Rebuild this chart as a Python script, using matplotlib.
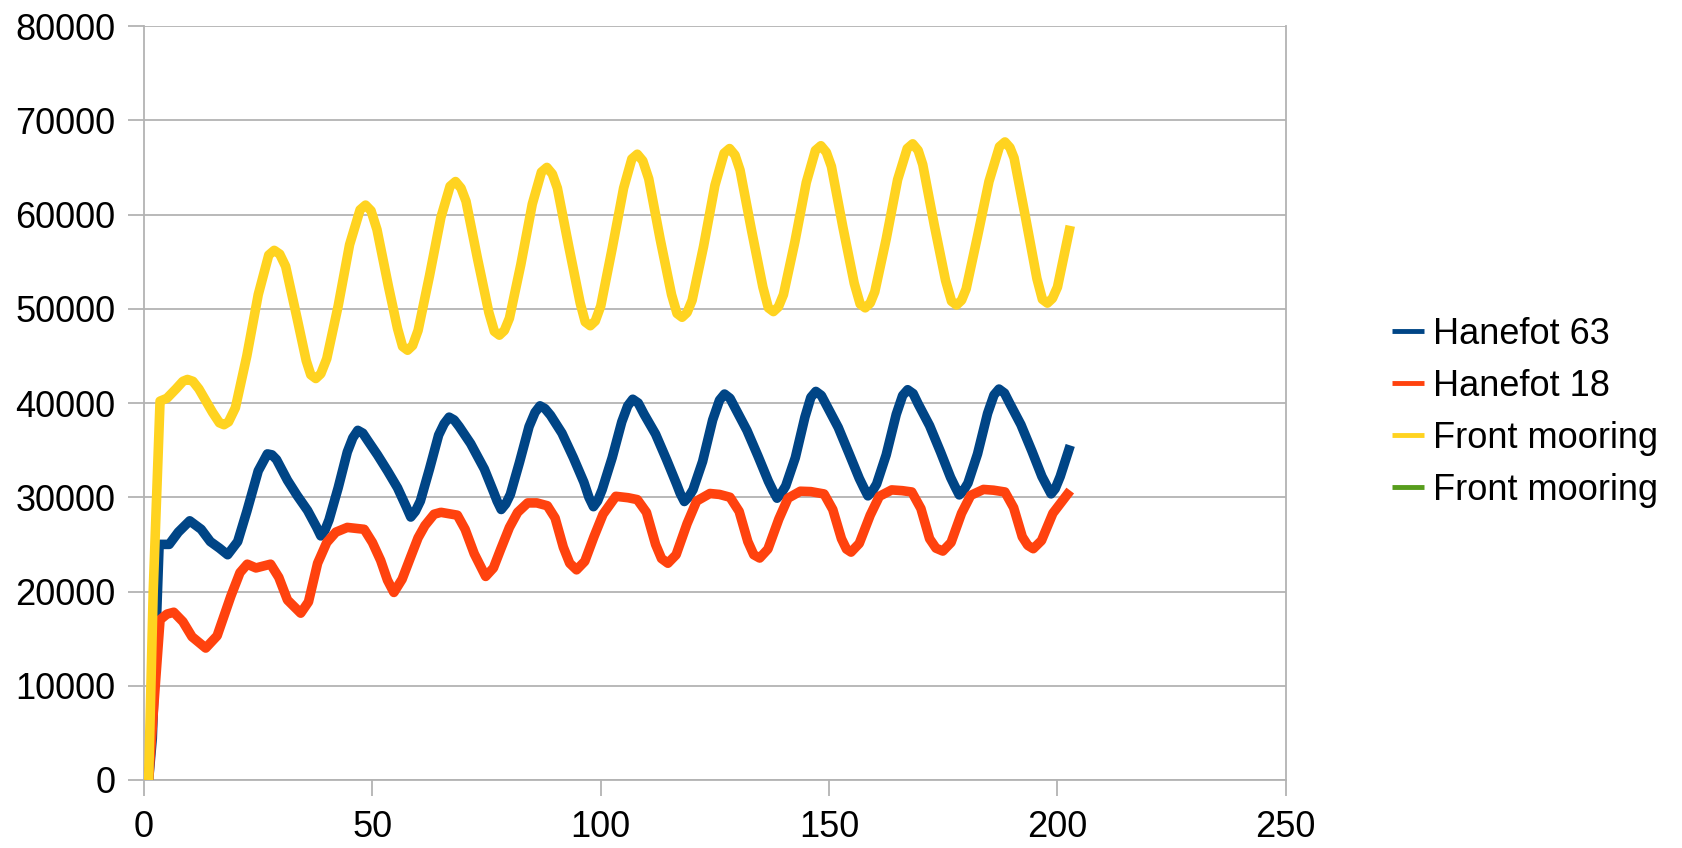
import matplotlib.pyplot as plt

plt.rcParams['font.family'] = ['Liberation Sans', 'DejaVu Sans']

# Serie: Hanefot 63
x_h63 = [1, 1.8, 3.3, 5.5, 7.5, 10, 12.5, 14.5, 16.5, 18.3,
         20.5, 22.5, 25, 27, 28, 29, 31.4, 33.5, 35.8, 37.8,
         38.7, 39.6, 40.5, 42.5, 44.5, 45.7, 46.8, 47.9, 49, 51.1,
         53.3, 55.5, 57.4, 58.4, 59.4, 60.5, 62.5, 64.5, 65.7, 66.8,
         67.9, 69, 71.5, 74.5, 76.5, 77.3, 78.2, 79.2, 80.2, 82.2,
         84.3, 85.6, 86.7, 87.8, 89, 91.5, 94, 96.3, 97.4, 98.4,
         99.3, 100.3, 102.5, 104.6, 105.9, 107, 108.2, 109.5, 112, 114.4,
         116.6, 117.4, 118.3, 119.2, 120.2, 122.3, 124.5, 126, 127.1, 128.3,
         129.5, 132, 134.4, 136.7, 137.7, 138.6, 139.5, 140.5, 142.6, 144.7,
         146, 147.1, 148.3, 149.5, 152, 154.4, 156.6, 157.6, 158.5, 159.4,
         160.4, 162.5, 164.7, 166.1, 167.2, 168.4, 169.5, 172, 174.4, 176.6,
         177.6, 178.5, 179.4, 180.4, 182.5, 184.7, 186.1, 187.2, 188.4, 189.5,
         192, 194.4, 196.6, 197.7, 198.6, 199.5, 200.6, 202.8]
y_h63 = [0, 4400, 25000, 25000, 26300, 27500, 26600, 25300, 24600, 23900,
         25300, 28500, 32800, 34600, 34500, 34000, 31800, 30200, 28600, 26800,
         25900, 26500, 27600, 31000, 34800, 36300, 37100, 36800, 36000, 34500,
         32800, 31000, 29000, 27900, 28500, 29600, 33000, 36600, 37800, 38500,
         38200, 37500, 35700, 33000, 30600, 29600, 28700, 29300, 30300, 33700,
         37500, 39000, 39700, 39400, 38700, 36800, 34200, 31600, 30000, 29000,
         29600, 30800, 34200, 38000, 39700, 40400, 40000, 38800, 36700, 34000,
         31400, 30400, 29550, 30000, 30800, 33800, 38200, 40300, 40950, 40500,
         39400, 37100, 34400, 31700, 30700, 29900, 30400, 31200, 34200, 38500,
         40600, 41230, 40800, 39700, 37400, 34600, 32000, 31000, 30150, 30600,
         31400, 34500, 38800, 40800, 41410, 41000, 39900, 37600, 34800, 32100,
         31100, 30250, 30700, 31500, 34600, 38900, 40850, 41480, 41050, 40000,
         37700, 34900, 32200, 31200, 30360, 30900, 32200, 35500]

# Serie: Hanefot 18
x_h18 = [1, 2, 3.5, 5, 6.5, 8.5, 10.5, 13.5, 16, 19, 21, 22.6, 24.5, 27.7, 29.5, 31.4,
         34.3, 36, 38, 40, 42, 44.5, 48.2, 50, 51.8, 53.3, 54.7, 56.5, 58.4, 60, 61.5,
         63.5, 65, 68.6, 70.3, 72.3, 74.8, 76.5, 78.1, 80, 81.8, 84, 86, 88.3, 90,
         91.8, 93.2, 94.7, 96.5, 98.5, 100.5, 103.3, 106, 108, 110, 112, 113.3, 114.7,
         116.5, 118.9, 121, 123.9, 126, 128.3, 130.3, 132.2, 133.5, 134.8, 136.6, 139,
         141, 143.7, 146, 148.9, 150.8, 152.7, 153.8, 154.8, 156.6, 159, 161, 163.7,
         166, 168.1, 170.1, 172, 173.4, 174.9, 176.7, 179, 181, 183.8, 186, 188.5,
         190.4, 192.3, 193.5, 194.7, 196.5, 199, 202.8]
y_h18 = [0, 7000, 17000, 17600, 17800, 16800, 15200, 14000, 15300, 19500, 22000, 22900,
         22500, 22900, 21500, 19100, 17700, 18900, 23000, 25200, 26300, 26800, 26600,
         25200, 23300, 21200, 19900, 21300, 23700, 25700, 27000, 28200, 28400, 28100,
         26600, 24000, 21600, 22500, 24500, 26800, 28400, 29400, 29400, 29100, 27800,
         24700, 23000, 22300, 23200, 25800, 28200, 30100, 29950, 29750, 28400, 25000,
         23500, 23000, 23900, 27200, 29600, 30400, 30300, 30000, 28500, 25300, 23900,
         23550, 24500, 27700, 29900, 30640, 30600, 30350, 28700, 25600, 24500, 24180,
         25100, 28100, 30100, 30780, 30700, 30560, 28800, 25600, 24600, 24290, 25200,
         28300, 30200, 30830, 30750, 30560, 28900, 25800, 24900, 24540, 25400, 28300,
         30710]

# Serie: Front mooring
x_fm = [1, 2, 3.5, 5, 7, 8.5, 9.5, 10.7, 12, 15,
        16.5, 17.5, 18.5, 20, 22.5, 25, 27.3, 28.5, 29.7, 31,
        33.5, 35.5, 36.5, 37.6, 38.7, 40, 42.5, 45, 47.3, 48.5,
        49.7, 51, 53.5, 55.5, 56.6, 57.7, 58.8, 60, 62.5, 65,
        67, 68.2, 69.4, 70.5, 73, 75.5, 76.7, 77.8, 78.9, 80,
        82.5, 85, 87, 88.2, 89.4, 90.5, 93, 95.5, 96.6, 97.7,
        98.8, 100, 102.5, 105, 106.8, 108, 109.2, 110.5, 113, 115.5,
        116.7, 117.8, 118.9, 120, 122.5, 125, 127, 128.2, 129.4, 130.5,
        133, 135.5, 136.7, 137.8, 138.9, 140, 142.5, 145, 147, 148.2,
        149.4, 150.5, 153, 155.5, 156.8, 157.9, 159, 160, 162.5, 165,
        167.1, 168.3, 169.5, 170.5, 173, 175.5, 176.8, 177.9, 179, 180,
        182.5, 185, 187.3, 188.5, 189.6, 190.5, 193, 195.5, 196.7, 197.8,
        198.9, 200, 202.8]
y_fm = [0, 20000, 40200, 40500, 41500, 42300, 42500, 42300, 41500, 39000,
        37900, 37700, 38000, 39500, 45000, 51500, 55700, 56200, 55800, 54500,
        49000, 44500, 43000, 42600, 43100, 44700, 50300, 56800, 60500, 61000,
        60400, 58400, 52400, 47900, 46000, 45600, 46100, 47700, 53500, 59700,
        63000, 63500, 62800, 61400, 55350, 49600, 47600, 47200, 47700, 49000,
        54700, 61100, 64500, 65000, 64300, 62800, 56600, 50600, 48600, 48200,
        48700, 50300, 56400, 62800, 65900, 66400, 65700, 63800, 57400, 51500,
        49500, 49100, 49600, 50900, 56600, 63100, 66500, 67000, 66300, 64700,
        58350, 52300, 50100, 49700, 50200, 51500, 57100, 63400, 66800, 67300,
        66600, 65100, 58700, 52700, 50500, 50100, 50600, 51800, 57400, 63700,
        67000, 67500, 66800, 65300, 58950, 53000, 50800, 50400, 50900, 52100,
        57700, 63500, 67200, 67700, 67100, 66000, 59700, 53200, 51000, 50600,
        51100, 52300, 58800]

# Serie: Front mooring (2) - sin datos visibles
x_fm2 = []
y_fm2 = []

fig = plt.figure(figsize=(16.83, 8.48), dpi=100)
ax = fig.add_axes([0.0856, 0.0802, 0.764 - 0.0856, 0.9693 - 0.0802])

estilo = dict(linewidth=6.9, solid_joinstyle='round', solid_capstyle='butt', zorder=3)
ax.plot(x_h63, y_h63, color='#004586', label='Hanefot 63', **estilo)
ax.plot(x_h18, y_h18, color='#ff420e', label='Hanefot 18', **estilo)
ax.plot(x_fm, y_fm, color='#ffd320', label='Front mooring', **estilo)
ax.plot(x_fm2, y_fm2, color='#579d1c', label='Front mooring', **estilo)

ax.set_xlim(0, 250)
ax.set_ylim(0, 80000)
ax.set_xticks(range(0, 251, 50))
ax.set_yticks(range(0, 80001, 10000))

gris = '#b3b3b3'
ax.yaxis.grid(True, color=gris, linewidth=1.3)
ax.set_axisbelow(True)
for lado in ['left', 'bottom', 'right']:
    ax.spines[lado].set_color(gris)
    ax.spines[lado].set_linewidth(1.3)
ax.spines['top'].set_visible(False)

ax.tick_params(axis='both', length=11.5, width=1.3, color=gris, labelsize=26)
ax.tick_params(axis='y', pad=9)
ax.tick_params(axis='x', pad=10)

leg = fig.legend(loc='center left', bbox_to_anchor=(0.827, 0.514), frameon=False,
                 fontsize=26, handlelength=0.9, handletextpad=0.25, labelspacing=0.47,
                 borderpad=0, borderaxespad=0)
for linea in leg.get_lines():
    linea.set_linewidth(3.5)

fig.savefig('out.png', dpi=100)
